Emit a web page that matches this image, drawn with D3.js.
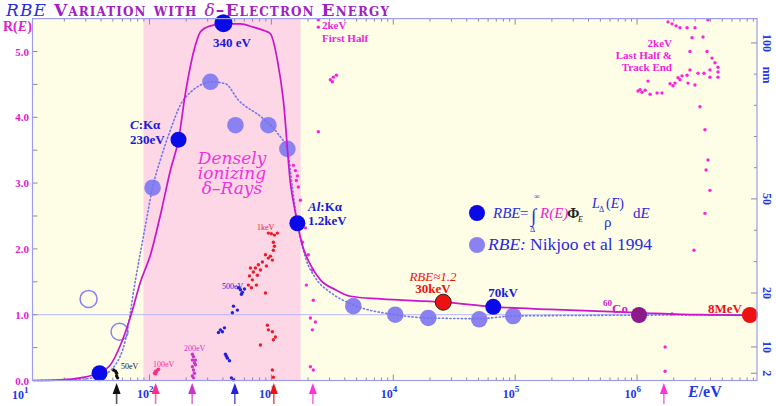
<!DOCTYPE html>
<html lang="en">
<head>
<meta charset="utf-8">
<script src="https://cdn.jsdelivr.net/npm/d3@7/dist/d3.min.js"></script>
<style>
  body { margin: 0; background: #ffffff; }
  svg text { font-family: "Liberation Serif", "DejaVu Serif", serif; }
</style>
</head>
<body>
<script>
// values: energies as log10(E/eV), R(E) on the left scale
const xLogMin = 1.04, xLogMax = 6.984;
const bandLogE = [1.95, 3.24];

// solid curve R(E)
const rbeLogE = [1.049,1.270,1.434,1.574,1.680,1.762,1.844,1.926,2.008,2.090,2.172,2.238,2.295,2.377,2.418,2.5,2.607,2.746,2.852,2.951,2.992,3.049,3.098,3.156,3.197,3.213,3.254,3.320,3.402,3.525,3.648,3.893,4.410,4.820,5.287,6.016,6.516,6.984];
const rbeR    = [0,0.01,0.04,0.11,0.24,0.54,0.97,1.50,1.91,2.52,3.20,3.66,4.37,5.10,5.30,5.39,5.42,5.42,5.37,5.31,5.27,4.87,4.26,3.00,2.55,2.39,2.06,1.76,1.53,1.38,1.28,1.24,1.19,1.12,1.08,1.03,1.00,0.99];

// dotted curve (Nikjoo et al 1994)
const nikLogE = [1.049,1.434,1.598,1.721,1.803,1.885,1.967,2.025,2.09,2.172,2.254,2.336,2.418,2.5,2.623,2.73,2.926,3.049,3.131,3.172,3.197,3.221,3.279,3.361,3.484,3.672,4.016,4.287,4.705,4.984,5.697,6.984];
const nikR    = [0,0.02,0.07,0.24,0.62,1.53,2.36,2.93,3.36,3.81,4.19,4.38,4.49,4.54,4.51,4.26,3.99,3.76,3.50,2.94,2.59,2.32,1.87,1.56,1.34,1.15,1.0,0.95,0.94,0.98,0.99,1.0];

// Nikjoo points (filled) and the two open circles
const nikPtLogE = [2.025,2.5,2.705,2.975,3.131,3.672,4.016,4.287,4.705,4.984];
const nikPtR    = [2.93,4.54,3.88,3.88,3.52,1.13,1.00,0.95,0.93,0.98];
const openLogE  = [1.5,1.754];
const openR     = [1.24,0.74];

// labelled points: ~35eV, C:Ka, 340 eV, Al:Ka, 30keV, 70kV, 60Co, 8MeV
const keyNames = ["low","CKa","340eV","AlKa","30keV","70kV","Co60","8MeV"];
const keyLogE  = [1.59,2.238,2.607,3.213,4.41,4.82,6.016,6.926];
const keyR     = [0.11,3.66,5.43,2.39,1.19,1.12,0.995,0.995];

// track-end markers under the axis
const arrowNames = ["50eV","100eV","200eV","500eV","1keV","2keV","Co60"];
const arrowLogE  = [1.73,2.05,2.35,2.70,3.02,3.34,6.22];

// simulated track dots [log10 E, R]
const track50 = [[1.705,0.16],[1.721,0.14],[1.730,0.11],[1.730,0.07],[1.738,0.04]];
const track100 = [[2.041,0.11],[2.049,0.14],[2.066,0.16],[2.074,0.17],[2.057,0.13],[2.049,0.10]];
const track200 = [[2.352,0.40],[2.361,0.36],[2.352,0.31],[2.369,0.27],[2.377,0.24],[2.352,0.21],[2.361,0.16],[2.369,0.11],[2.352,0.07],[2.361,0.04],[2.377,0.31]];
const track500 = [[2.730,1.41],[2.746,1.38],[2.762,1.34],[2.779,1.39],[2.754,1.31],[2.689,1.13],[2.721,1.07],[2.680,1.03],[2.582,0.77],[2.598,0.74],[2.615,0.80],[2.566,0.73],[2.623,0.40],[2.639,0.34],[2.656,0.30],[2.631,0.37],[2.672,0.04],[2.689,0.01]];
const track1k = [[2.975,2.24],[3.0,2.23],[3.025,2.21],[3.049,2.24],[3.016,2.10],[3.025,2.04],[3.016,1.98],[2.951,1.91],[2.975,1.86],[3.008,1.83],[2.992,1.89],[2.926,1.80],[2.893,1.76],[2.869,1.71],[2.910,1.68],[2.959,1.74],[2.828,1.71],[2.852,1.65],[2.885,1.60],[2.820,1.59],[2.844,1.53],[2.811,1.45],[2.836,1.41],[2.877,1.45],[2.951,1.33],[2.967,0.84],[2.975,0.77],[3.033,0.66],[3.008,0.74],[3.016,0.62],[2.910,0.54],[3.008,0.16],[3.016,0.05]];
const track2kFirst = [[3.385,5.48],[3.385,5.37],[3.484,4.57],[3.508,4.61],[3.533,4.64],[3.5,4.54],[3.180,3.27],[3.197,3.19],[3.213,3.11],[3.205,3.04],[3.221,2.94],[3.385,3.78],[3.238,2.74],[3.279,2.32],[3.254,2.10],[3.303,1.91],[3.336,1.68],[3.287,1.45],[3.344,1.22],[3.320,0.95],[3.361,0.89],[3.336,0.77],[3.320,0.21],[3.344,0.16]];
const track2kLast = [[6.254,5.45],[6.287,5.42],[6.320,5.39],[6.352,5.36],[6.410,5.36],[6.475,5.36],[6.582,5.48],[6.451,5.21],[6.541,5.22],[6.434,5.0],[6.574,5.0],[6.615,4.90],[6.639,4.83],[6.434,4.72],[6.5,4.67],[6.549,4.67],[6.598,4.72],[6.598,4.61],[6.664,4.76],[6.664,4.69],[6.664,4.61],[6.336,4.60],[6.369,4.63],[6.410,4.64],[6.352,4.57],[6.271,4.51],[6.295,4.48],[6.311,4.52],[6.418,4.52],[6.475,4.49],[6.090,4.55],[6.008,4.40],[6.041,4.38],[6.066,4.41],[6.107,4.35],[6.025,4.42],[6.164,4.37],[6.205,4.37],[6.516,4.16],[6.557,3.81],[6.582,3.35],[6.566,3.20],[6.598,2.89],[6.557,2.54],[6.467,1.98],[6.287,1.01],[6.230,0.51],[6.230,0.14]];

// right-hand nm scale: tick values and the R level they sit at
const nmTicks = [2,10,20,50,100];
const nmAtR   = [0.11,0.51,1.33,2.76,5.13];

let w = 776, h = 406;
let svg = d3.select("body").append("svg").attr("width", w).attr("height", h);

let xScale = d3.scaleLog()
    .domain([Math.pow(10, xLogMin), Math.pow(10, xLogMax)])
    .range([32.5, 757]);
let yScale = d3.scaleLinear().domain([0, 5.5]).range([380.5, 18.6]);
let px = (lg) => xScale(Math.pow(10, lg));
let nmScale = d3.scaleLinear().domain(nmTicks).range(nmAtR.map(yScale));

let x0 = xScale.range()[0], x1 = xScale.range()[1];
let yTop = yScale(5.5), yBot = yScale(0);

// background + dense-ionizing band
svg.append("rect").attr("x", x0).attr("y", yTop).attr("width", x1 - x0).attr("height", yBot - yTop)
    .attr("fill", "#fefee6");
svg.append("rect").attr("x", px(bandLogE[0])).attr("y", yTop)
    .attr("width", px(bandLogE[1]) - px(bandLogE[0])).attr("height", yBot - yTop)
    .attr("fill", "#fdd7e6");

// R = 1 reference line
svg.append("line").attr("x1", x0).attr("x2", x1).attr("y1", yScale(1)).attr("y2", yScale(1))
    .attr("stroke", "#b4b8ff").attr("stroke-width", 1);

// ticks (inside the frame)
let xt = xScale.ticks();
xt.forEach(t => {
    let major = Math.abs(Math.log10(t) - Math.round(Math.log10(t))) < 1e-9;
    let len = major ? 6 : 3;
    svg.append("line").attr("x1", xScale(t)).attr("x2", xScale(t))
        .attr("y1", yBot).attr("y2", yBot - len).attr("stroke", "#8a8a9a");
    svg.append("line").attr("x1", xScale(t)).attr("x2", xScale(t))
        .attr("y1", yTop).attr("y2", yTop + len).attr("stroke", "#8a8a9a");
});
yScale.ticks(11).forEach(t => {
    svg.append("line").attr("x1", x0).attr("x2", x0 + 5)
        .attr("y1", yScale(t)).attr("y2", yScale(t)).attr("stroke", "#8a8a9a");
});
d3.range(2, 101, 2).filter(v => v % 10 === 0 || v === 2).forEach(v => {
    svg.append("line").attr("x1", x1).attr("x2", x1 - (nmTicks.includes(v) ? 6 : 3))
        .attr("y1", nmScale(v)).attr("y2", nmScale(v)).attr("stroke", "#8a8a9a");
});

// y tick labels
yScale.ticks(5).forEach(t => {
    svg.append("text").attr("x", 29).attr("y", yScale(t) + 4)
        .attr("text-anchor", "end").attr("font-size", 11).attr("font-weight", "bold")
        .attr("fill", "#e020d0").text(d3.format(".1f")(t));
});
svg.append("text").attr("x", 3).attr("y", 31).attr("font-size", 14).attr("font-weight", "bold")
    .attr("fill", "#dd22cc")
    .html('R(<tspan font-style="italic">E</tspan>)');

// x tick labels 10^n
[2,3,4,5,6].forEach(n => {
    let t = svg.append("text").attr("x", xScale(Math.pow(10, n)) + 4).attr("y", 398)
        .attr("text-anchor", "end").attr("font-size", 12).attr("font-weight", "bold").attr("fill", "#2238e8");
    t.append("tspan").text("10");
    t.append("tspan").attr("dy", -6).attr("font-size", 9).text(n);
});
let t1 = svg.append("text").attr("x", 12).attr("y", 399).attr("font-size", 12)
    .attr("font-weight", "bold").attr("fill", "#2238e8");
t1.append("tspan").text("10");
t1.append("tspan").attr("dy", -6).attr("font-size", 9).text("1");

svg.append("text").attr("x", 688).attr("y", 397).attr("font-size", 16).attr("font-weight", "bold")
    .attr("fill", "#2238e8")
    .html('<tspan font-style="italic">E</tspan>/eV');

// right axis labels (rotated)
nmTicks.forEach(v => {
    svg.append("text").attr("transform", "translate(" + (x1 + 6) + "," + nmScale(v) + ") rotate(90)")
        .attr("text-anchor", "middle").attr("font-size", 12).attr("font-weight", "bold")
        .attr("fill", "#2238e8").text(v);
});
svg.append("text").attr("transform", "translate(" + (x1 + 6) + "," + yScale(4.64) + ") rotate(90)")
    .attr("text-anchor", "middle").attr("font-size", 12).attr("font-weight", "bold")
    .attr("fill", "#2238e8").text("nm");

// track dots
let trackSets = [
    [track50, "#111111"], [track100, "#ff2a8a"], [track200, "#cc33cc"], [track500, "#2020dd"],
    [track1k, "#ee1a2a"], [track2kFirst, "#ff22dd"], [track2kLast, "#ff22dd"]
];
trackSets.forEach(s => {
    svg.append("g").selectAll("circle").data(s[0]).enter().append("circle")
        .attr("cx", d => px(d[0])).attr("cy", d => yScale(d[1])).attr("r", 1.7)
        .attr("fill", s[1]);
});

// Nikjoo points
svg.selectAll("circle.nik").data(nikPtLogE).enter().append("circle").attr("class", "nik")
    .attr("cx", d => px(d)).attr("cy", (d, i) => yScale(nikPtR[i])).attr("r", 8.3)
    .attr("fill", "#8a82f0");
svg.selectAll("circle.open").data(openLogE).enter().append("circle").attr("class", "open")
    .attr("cx", d => px(d)).attr("cy", (d, i) => yScale(openR[i])).attr("r", 8.5)
    .attr("fill", "none").attr("stroke", "#8a82f0").attr("stroke-width", 1.5);

// curves
let line = d3.line().x(d => px(d[0])).y(d => yScale(d[1])).curve(d3.curveMonotoneX);
svg.append("path").datum(nikLogE.map((v, i) => [v, nikR[i]])).attr("d", line)
    .attr("fill", "none").attr("stroke", "#7474ee").attr("stroke-width", 1.6)
    .attr("stroke-dasharray", "1.2,2.6").attr("stroke-linecap", "round");
svg.append("path").datum(rbeLogE.map((v, i) => [v, rbeR[i]])).attr("d", line)
    .attr("fill", "none").attr("stroke", "#cc14cc").attr("stroke-width", 1.7);

// labelled points
let keyColor = d3.scaleOrdinal().domain(keyNames)
    .range(["#0a0ae8","#0a0ae8","#0a0ae8","#0a0ae8","#ee1111","#0a0ae8","#8b1a8b","#ee1111"]);
svg.selectAll("circle.key").data(keyLogE).enter().append("circle").attr("class", "key")
    .attr("cx", d => px(d)).attr("cy", (d, i) => yScale(keyR[i]))
    .attr("r", (d, i) => keyNames[i] === "340eV" ? 9 : 8)
    .attr("fill", (d, i) => keyColor(keyNames[i]))
    .attr("stroke", (d, i) => keyNames[i] === "30keV" ? "#222" : "none");

// arrows under the axis
let arrowColor = d3.scaleOrdinal().domain(arrowNames)
    .range(["#111111","#ff2a8a","#cc33cc","#2020dd","#ee1111","#ff33dd","#ff33dd"]);
arrowLogE.forEach((v, i) => {
    let ax = px(v), c = arrowColor(arrowNames[i]);
    svg.append("line").attr("x1", ax).attr("x2", ax).attr("y1", 390).attr("y2", 404)
        .attr("stroke", c).attr("stroke-width", 1.6).attr("opacity", 0.7);
    svg.append("path").attr("d", "M" + ax + ",383 L" + (ax - 4) + ",394 L" + (ax + 4) + ",394 Z")
        .attr("fill", c);
});

// frame
svg.append("rect").attr("x", x0).attr("y", yTop).attr("width", x1 - x0).attr("height", yBot - yTop)
    .attr("fill", "none").attr("stroke", "#9c9cf0").attr("stroke-width", 1.2);

// annotations
function note(x, y, txt, size, color, opts) {
    let t = svg.append("text").attr("x", x).attr("y", y).attr("font-size", size).attr("fill", color);
    if (opts && opts.bold) t.attr("font-weight", "bold");
    if (opts && opts.italic) t.attr("font-style", "italic");
    if (opts && opts.anchor) t.attr("text-anchor", opts.anchor);
    if (opts && opts.family) t.style("font-family", opts.family);
    t.html(txt);
    return t;
}
note(232, 47, "340 eV", 13, "#1a1ad8", {bold: true, anchor: "middle"});
note(130, 129, '<tspan font-style="italic">C</tspan>:K&#945;', 13, "#1a1ad8", {bold: true});
note(130, 144, "230eV", 13, "#1a1ad8", {bold: true});
note(308, 211, '<tspan font-style="italic">Al</tspan>:K&#945;', 13, "#1a1ad8", {bold: true});
note(308, 225, "1.2keV", 13, "#1a1ad8", {bold: true});
note(433, 281, "RBE&#8776;1.2", 13, "#ee1111", {italic: true, anchor: "middle"});
note(433, 293, "30keV", 13, "#ee1111", {bold: true, anchor: "middle"});
note(503, 297, "70kV", 13, "#1a1ad8", {bold: true, anchor: "middle"});
note(603, 306, "60", 9, "#cc22cc", {bold: true});
note(612, 313, "Co", 13, "#cc22cc", {bold: true});
note(725, 313, "8MeV", 13, "#ee1111", {bold: true, anchor: "middle"});
note(322, 29, "2keV", 11, "#ee22dd", {bold: true});
note(322, 42, "First Half", 11, "#ee22dd", {bold: true});
note(672, 47, "2keV", 11, "#ee22dd", {bold: true, anchor: "end"});
note(672, 59, "Last Half &amp;", 11, "#ee22dd", {bold: true, anchor: "end"});
note(672, 71, "Track End", 11, "#ee22dd", {bold: true, anchor: "end"});
note(121, 369, "50eV", 8, "#111111");
note(153, 367, "100eV", 8, "#ff2a8a");
note(184, 351, "200eV", 8, "#cc33cc");
note(222, 289, "500eV", 8, "#2020dd");
note(257, 230, "1keV", 8, "#ee1a2a");
note(232, 164, "Densely", 17, "#ee33dd", {italic: true, anchor: "middle", family: "DejaVu Serif"});
note(232, 179, "ionizing", 17, "#ee33dd", {italic: true, anchor: "middle", family: "DejaVu Serif"});
note(232, 194, "&#948;&#8211;Rays", 17, "#ee33dd", {italic: true, anchor: "middle", family: "DejaVu Serif"});

// legend
svg.append("circle").attr("cx", 477).attr("cy", 213).attr("r", 8).attr("fill", "#0a0ae8");
svg.append("circle").attr("cx", 477).attr("cy", 245).attr("r", 8).attr("fill", "#8a82f0");
note(493, 218, "RBE", 15, "#2a2ae0", {italic: true});
note(520, 218, "=", 15, "#2a2ae0");
note(531, 222, "&#8747;", 19, "#2a2ae0");
note(534, 199, "&#8734;", 8, "#2a2ae0");
note(530, 232, "&#916;", 8, "#2a2ae0");
note(540, 218, 'R(<tspan>E</tspan>)', 15, "#ee22cc", {italic: true});
note(567, 218, "&#934;", 15, "#222222", {bold: true});
note(578, 222, "E", 8, "#222222", {italic: true});
note(592, 208, 'L', 14, "#2a2ae0", {italic: true});
note(599, 212, "&#916;", 8, "#2a2ae0");
note(606, 208, '(<tspan font-style="italic">E</tspan>)', 14, "#2a2ae0");
note(604, 227, "&#961;", 15, "#2a2ae0");
note(633, 218, 'd<tspan font-style="italic">E</tspan>', 15, "#2a2ae0");
note(488, 250, "RBE:", 17.5, "#2a2ae0", {italic: true});
note(530, 250, "Nikjoo et al 1994", 17.5, "#2a2ae0");

// title
let title = svg.append("text").attr("x", 6).attr("y", 16).attr("font-size", 17)
    .attr("letter-spacing", 1.1)
    .style("font-family", "DejaVu Serif").attr("font-weight", "bold");
title.append("tspan").attr("fill", "#2a2ae0").attr("font-style", "italic").attr("font-weight", "normal").text("RBE");
title.append("tspan").attr("fill", "#a020c0").attr("font-variant", "small-caps").text(" Variation with ");
title.append("tspan").attr("fill", "#a020c0").attr("font-style", "italic").attr("font-weight", "normal").text("\u03b4");
title.append("tspan").attr("fill", "#a020c0").attr("font-variant", "small-caps").text("\u2013Electron Energy");
</script>
</body>
</html>
